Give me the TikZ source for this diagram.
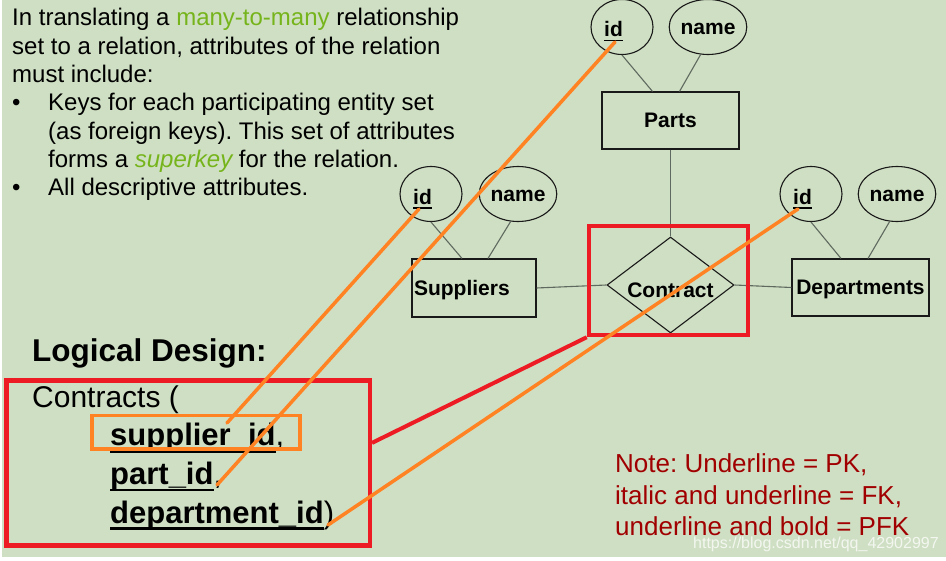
\documentclass[tikz,border=0pt]{standalone}
\usepackage{fontspec}
\setmainfont{Liberation Sans}
\usetikzlibrary{shapes.geometric}
\definecolor{bgG}{RGB}{207,223,195}
\definecolor{grn}{RGB}{118,180,28}
\definecolor{redC}{RGB}{237,28,36}
\definecolor{orC}{RGB}{255,130,35}
\definecolor{noteC}{RGB}{160,0,0}
\definecolor{linkC}{RGB}{95,105,95}
\definecolor{edgeC}{RGB}{25,25,25}
\newcommand\fsz[1]{\fontsize{#1}{#1}\selectfont}
\newcommand\ulin[1]{\setbox0\hbox{#1}\rlap{\rule[-0.21em]{\wd0}{0.07em}}\box0}
\frenchspacing
\begin{document}
\begin{tikzpicture}[x=1pt,y=-1pt,
  er/.style={draw=edgeC, line width=1.1pt, font=\fsz{21}\bfseries, text height=15, text depth=0, inner sep=0},
  attr/.style={er, ellipse, minimum width=62, minimum height=55},
  ent/.style={er, rectangle},
  link/.style={draw=linkC, line width=1.1pt},
  txt/.style={anchor=base west, inner sep=0, font=\fsz{24}},
  redbox/.style={draw=redC, line width=4.5pt, rectangle, inner sep=0},
  redline/.style={draw=redC, line width=4pt},
  orbox/.style={draw=orC, line width=3.8pt, rectangle, inner sep=0},
  orline/.style={draw=orC, line width=3.5pt, line cap=round}]
\useasboundingbox (0,0) rectangle (946,561);
\fill[white] (0,0) rectangle (946,561);
\fill[bgG] (2,0) rectangle (946,557);

% ER diagram
\node[ent, minimum width=137, minimum height=57] (parts) at (670.5,120.5) {Parts};
\node[ent, minimum width=124, minimum height=58, text width=120, align=left, inner xsep=2] (sup) at (474,288) {Suppliers};
\node[ent, minimum width=137, minimum height=57] (dep) at (860.5,287.5) {Departments};
\node[er, diamond, aspect=1.32, minimum width=127, minimum height=96] (con) at (670.5,285) {\raisebox{-5pt}{Contract}};

\node[attr] (pid) at (622,27) {\raisebox{-2.5pt}{\ulin{id}}\hspace*{17pt}};
\node[attr] (pname) at (708,27) {name};
\node[attr] (sid) at (431,194) {\raisebox{-3pt}{\ulin{id}}\hspace*{17pt}};
\node[attr] (sname) at (518,194) {name};
\node[attr] (did) at (811,194) {\raisebox{-3pt}{\ulin{id}}\hspace*{17pt}};
\node[attr] (dname) at (897,194) {name};

\draw[link] (pid.south) -- ([xshift=-18]parts.north);
\draw[link] (pname.-105) -- ([xshift=9]parts.north);
\draw[link] (sid.south) -- ([xshift=-12]sup.north);
\draw[link] (sname.-105) -- ([xshift=14]sup.north);
\draw[link] (did.south) -- ([xshift=-19.5]dep.north);
\draw[link] (dname.-105) -- ([xshift=7.5]dep.north);
\draw[link] (parts.south) -- (con.north);
\draw[link] (sup.east) -- (con.west);
\draw[link] (con.east) -- (dep.west);

% text block
\node[txt] (t1) at (12,26) {In translating a \textcolor{grn}{many-to-many} relationship};
\node[txt] (t2) at (12,54.5) {set to a relation, attributes of the relation};
\node[txt] (t3) at (12,83) {must include:};
\node[txt] (b1) at (12,111) {•};
\node[txt] (t4) at (48,111) {Keys for each participating entity set};
\node[txt] (t5) at (48,139.5) {(as foreign keys). This set of attributes};
\node[txt] (t6) at (48,168) {forms a \textcolor{grn}{\itshape superkey} for the relation.};
\node[txt] (b2) at (12,196) {•};
\node[txt] (t7) at (48,196) {All descriptive attributes.};

% logical design
\node[txt, font=\fsz{31.5}\bfseries] (ld) at (32,362) {Logical Design:};
\node[txt, font=\fsz{30}] (ct) at (32,407.5) {Contracts (};
\node[txt, font=\fsz{31}] (f1) at (110,446) {\textbf{\ulin{supplier\_id}},};
\node[txt, font=\fsz{31}] (f2) at (110,484.5) {\textbf{\ulin{part\_id}},};
\node[txt, font=\fsz{31}] (f3) at (110,523) {\textbf{\ulin{department\_id}})};

% note
\node[txt, font=\fsz{26}, text=noteC] (n1) at (615,473) {Note: Underline = PK,};
\node[txt, font=\fsz{26}, text=noteC] (n2) at (615,504) {italic and underline = FK,};
\node[txt, font=\fsz{26}, text=noteC] (n3) at (615,535) {underline and bold = PFK};

% red highlights
\node[redbox, minimum width=159, minimum height=109] (cbox) at (668.5,280.5) {};
\node[redbox, minimum width=363.5, minimum height=165.25] (lbox) at (188,462.9) {};
\draw[redline] ([yshift=20]lbox.east) -- (cbox.south west);

% orange highlights
\node[orbox, minimum width=208, minimum height=33.5] (obox) at (196,432.25) {};
\coordinate (o1a) at (227,423); \coordinate (o1b) at (419,209);
\coordinate (o2a) at (217,485); \coordinate (o2b) at (615,42);
\coordinate (o3a) at (328,525); \coordinate (o3b) at (798,209);
\draw[orline] (o1a) -- (o1b);
\draw[orline] (o2a) -- (o2b);
\draw[orline] (o3a) -- (o3b);

% watermark
\node[txt, font=\fsz{16}, text=white, text opacity=0.75] (wm) at (693,548) {https://blog.csdn.net/qq\_42902997};
\end{tikzpicture}
\end{document}
